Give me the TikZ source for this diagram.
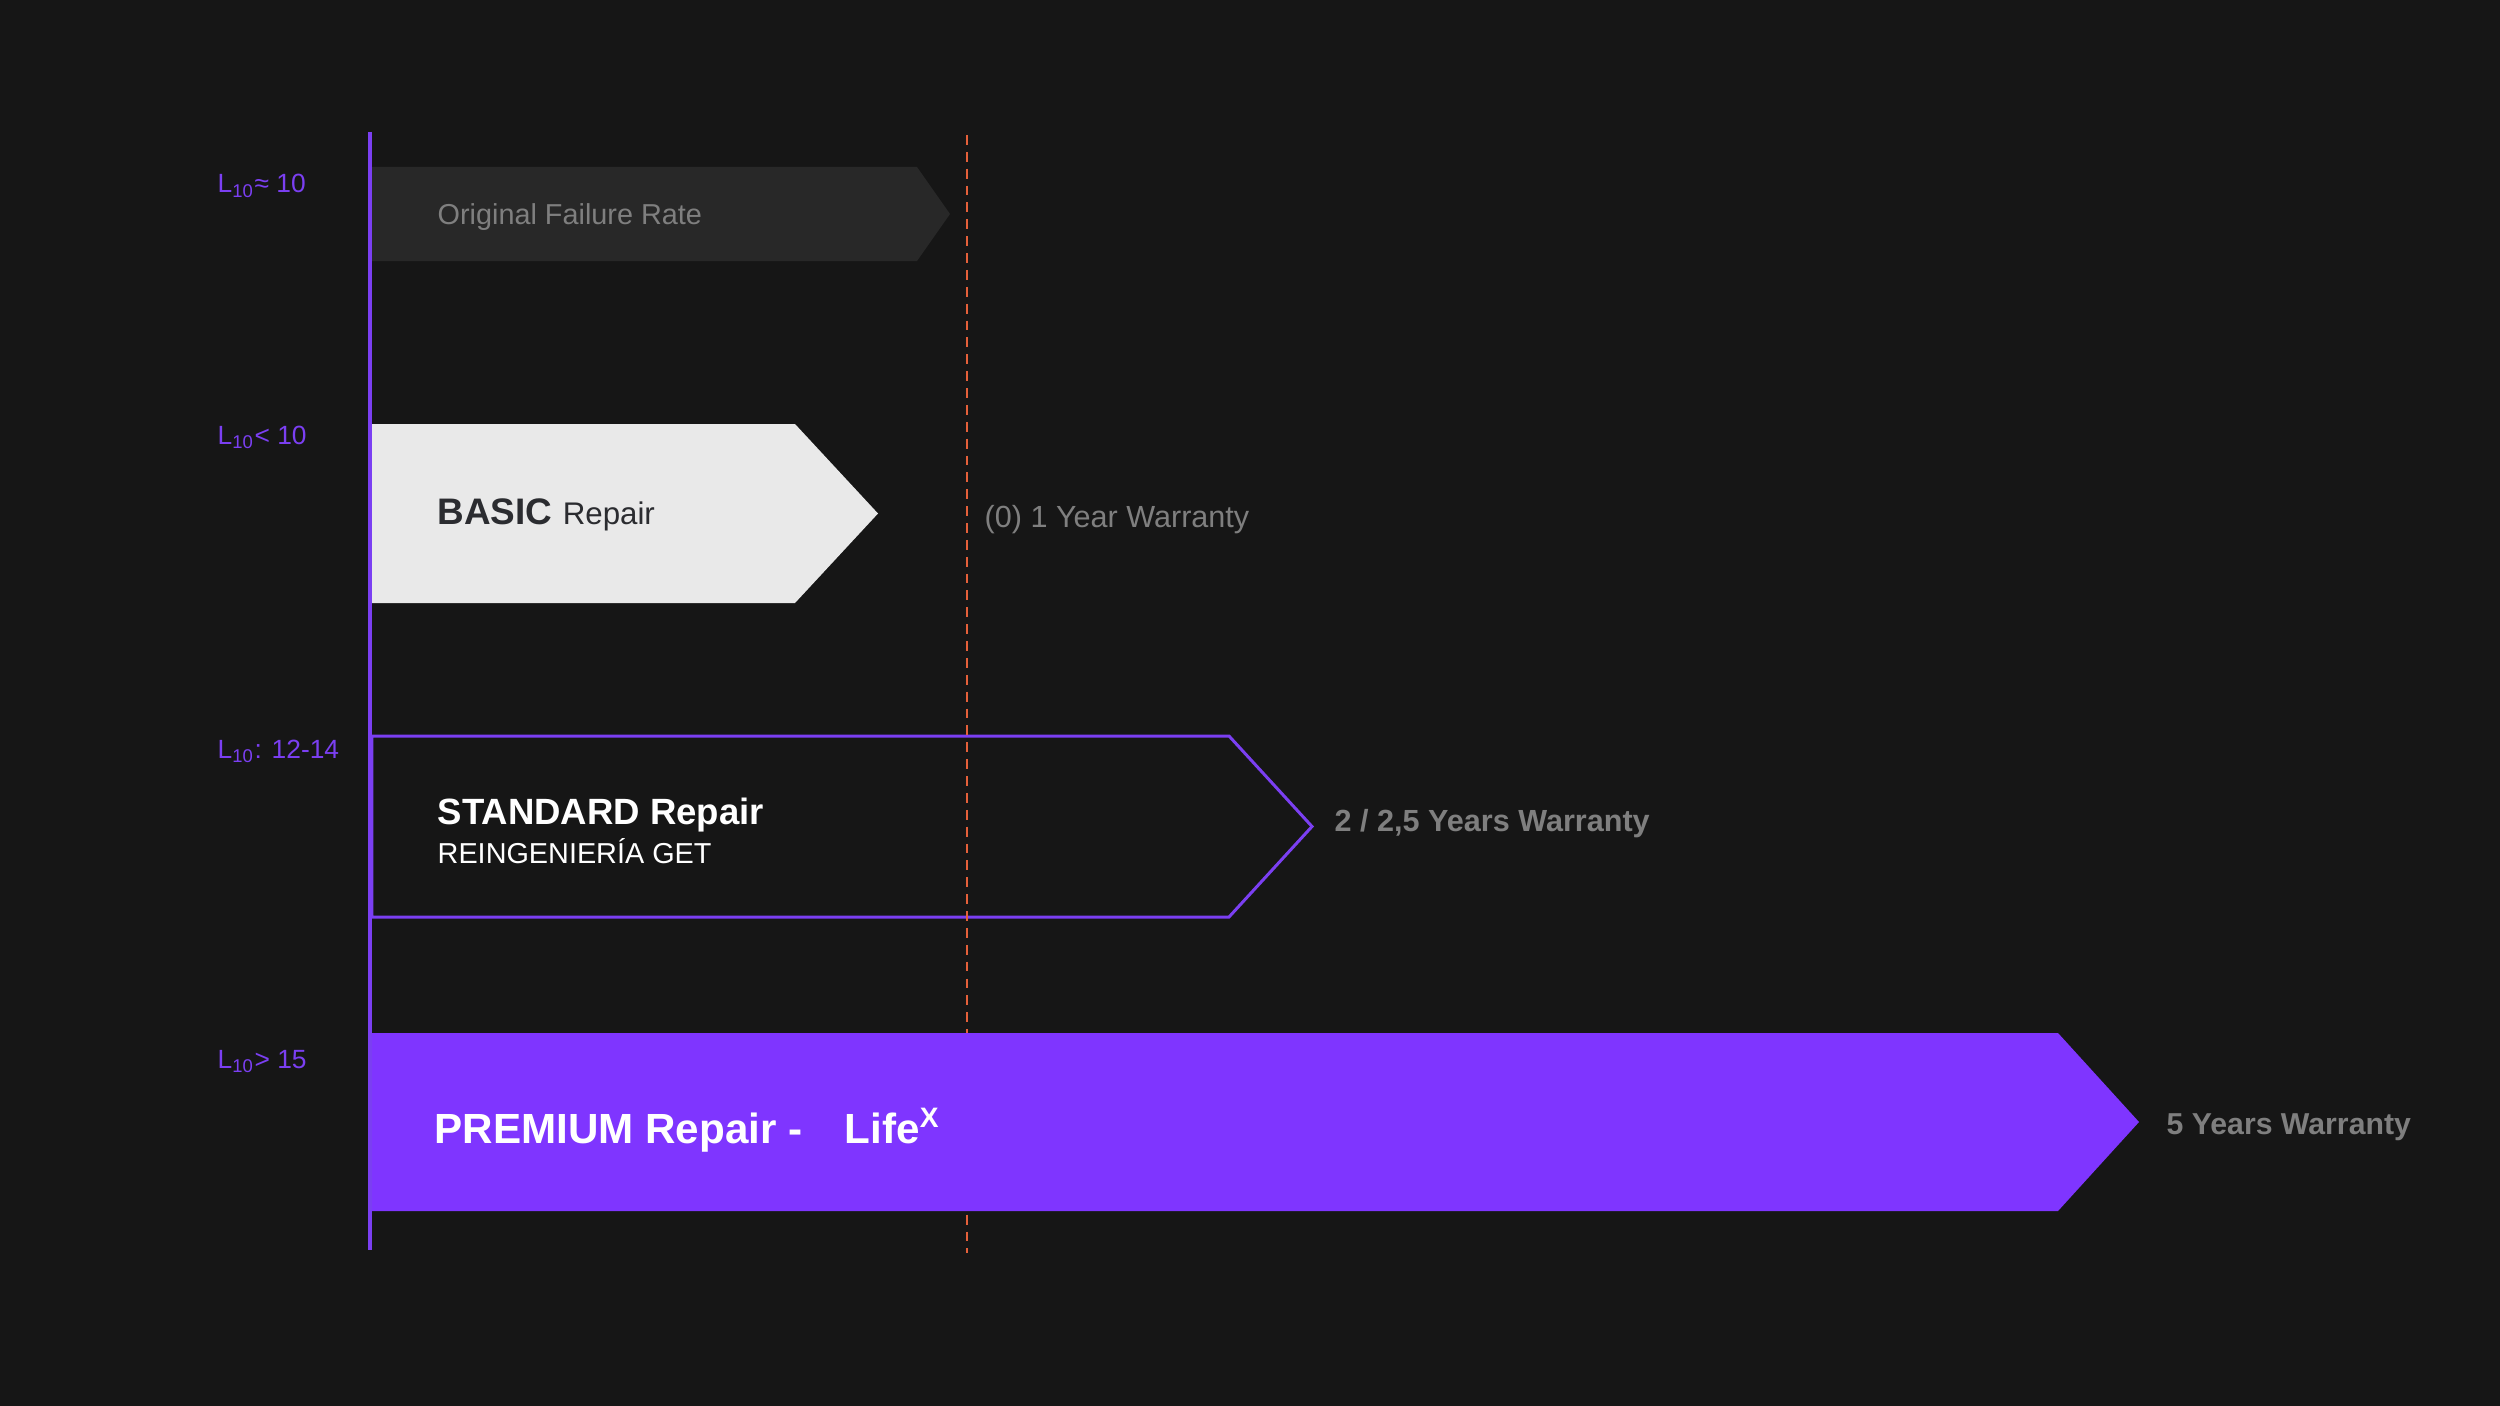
\documentclass[tikz,border=0pt]{standalone}
\usepackage{fontspec}
\setmainfont{Liberation Sans}
\usetikzlibrary{positioning}
\definecolor{canvas}{HTML}{161616}
\definecolor{barbase}{HTML}{282828}
\definecolor{barbasic}{HTML}{E9E9E9}
\definecolor{inkdark}{HTML}{2B2C30}
\definecolor{lifeviolet}{HTML}{7F35FF}
\definecolor{axisviolet}{HTML}{7B3FF2}
\definecolor{limitred}{HTML}{E5603A}
\definecolor{softgray}{HTML}{7F7F7F}

\begin{document}
\begin{tikzpicture}[
  level/.style={text=axisviolet,anchor=base west,inner sep=0pt,font=\fontsize{7.5}{9}\selectfont},
  bartext/.style={anchor=base west,inner sep=0pt},
  warranty/.style={anchor=base west,inner sep=0pt,text=softgray,font=\fontsize{8.7}{10}\selectfont},
  axisline/.style={draw=axisviolet,line width=0.9pt},
  limitline/.style={draw=limitred,line width=0.75pt,dash pattern=on 2.8pt off 2pt},
  outlinebar/.style={draw=axisviolet,line width=0.85pt,line join=miter}]
\fill[canvas] (0,0) rectangle (25,-14.06);
\useasboundingbox (0,0) rectangle (25,-14.06);
% bars
\fill[barbase] (3.72,-1.67) -- (9.17,-1.67) -- (9.50,-2.14) -- (9.17,-2.61) -- (3.72,-2.61) -- cycle;
\fill[barbasic] (3.72,-4.24) -- (7.95,-4.24) -- (8.78,-5.135) -- (7.95,-6.03) -- (3.72,-6.03) -- cycle;
\draw[outlinebar] (3.72,-7.36) -- (12.29,-7.36) -- (13.12,-8.265) -- (12.29,-9.17) -- (3.72,-9.17) -- cycle;
\coordinate (stdtip) at (13.12,-8.265);
\draw[limitline] (9.67,-1.35) -- (9.67,-12.53);
\fill[lifeviolet] (3.72,-10.33) -- (20.58,-10.33) -- (21.39,-11.22) -- (20.58,-12.11) -- (3.72,-12.11) -- cycle;
\coordinate (premtip) at (21.39,-11.22);
\draw[axisline] (3.70,-1.32) -- (3.70,-12.50);
% levels
\node[level] (lvlorig) at (2.17,-1.93) {L\textsubscript{10}≈ 10};
\node[level] (lvlbasic) at (2.17,-4.44) {L\textsubscript{10}< 10};
\node[level] (lvlstd) at (2.17,-7.58) {L\textsubscript{10}: 12-14};
\node[level] (lvlprem) at (2.17,-10.68) {L\textsubscript{10}> 15};
% bar texts
\node[bartext,text=softgray,font=\fontsize{8.2}{10}\selectfont] (origtext) at (4.37,-2.25) {Original Failure Rate};
\node[bartext,text=inkdark] (basictext) at (4.37,-5.24) {\fontsize{10.5}{12}\selectfont\bfseries BASIC \fontsize{8.9}{10}\mdseries\selectfont Repair};
\node[bartext,text=white,font=\fontsize{10.4}{12}\bfseries\selectfont] (stdtext) at (4.37,-8.24) {STANDARD Repair};
\node[bartext,text=white,font=\fontsize{8.2}{10}\selectfont] (stdsub) at (4.37,-8.63) {REINGENIERÍA GET};
\node[bartext,text=white,font=\fontsize{12}{14}\bfseries\selectfont] (premtext) at (4.34,-11.43) {PREMIUM Repair -\quad Life\textsuperscript{X}};
% warranties
\node[warranty] (basicwarranty) at (9.84,-5.27) {(0) 1 Year Warranty};
\node[warranty,font=\fontsize{8.7}{10}\bfseries\selectfont,right=2.2mm of stdtip,anchor=west,yshift=0.3mm] (stdwarranty) {2 / 2,5 Years Warranty};
\node[warranty,font=\fontsize{8.6}{10}\bfseries\selectfont,right=2.7mm of premtip,anchor=west,yshift=-0.5mm] (premwarranty) {5 Years Warranty};
\end{tikzpicture}
\end{document}
